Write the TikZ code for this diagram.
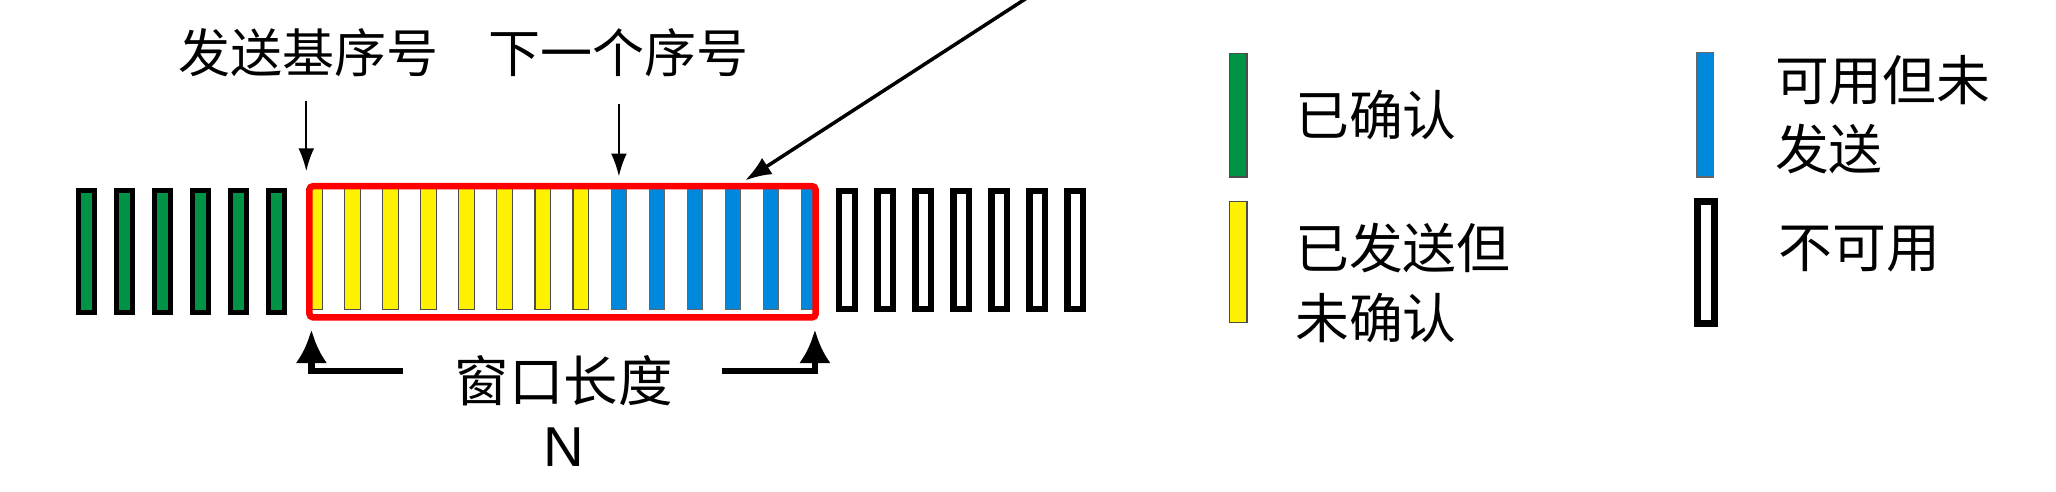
\documentclass[tikz,border=0pt]{standalone}
\usepackage{fontspec}
\setmainfont{Liberation Sans}
\newfontfamily\cjk{Noto Sans CJK SC}
\usetikzlibrary{positioning,arrows,arrows.meta,calc}
\newcommand{\pxu}{0.013112cm}
\definecolor{ackgreen}{RGB}{0,146,69}
\definecolor{freeblue}{RGB}{0,137,220}

\begin{document}
\begin{tikzpicture}[
x=0.013112cm,
y=-0.013112cm,
bar/.style={
  draw,
  rectangle,
  inner sep=0pt,
  minimum width=12*\pxu,
  minimum height=92*\pxu
  },
acked/.style={
  bar,
  fill=ackgreen,
  line width=4*\pxu,
  minimum height=93*\pxu
  },
sent/.style={
  bar,
  fill=yellow,
  draw=black!70,
  line width=0.3pt
  },
usable/.style={
  bar,
  fill=freeblue,
  draw=black!60,
  line width=0.3pt
  },
unusable/.style={
  bar,
  fill=white,
  line width=5*\pxu,
  minimum height=90*\pxu
  },
winframe/.style={
  draw=red,
  line width=5*\pxu,
  rounded corners=1pt,
  inner sep=0pt,
  minimum width=386*\pxu,
  minimum height=100*\pxu
  },
title/.style={
  inner sep=0pt,
  font=\cjk\fontsize{14.8}{18}\selectfont
  },
legtext/.style={
  inner sep=0pt,
  align=left,
  font=\cjk\fontsize{15.3}{19.8}\selectfont
  },
pointer/.style={
  -{Latex[length=6.5pt,width=4.5pt]},
  line width=0.5pt
  },
bracket/.style={
  -{Latex[length=9.5pt,width=9pt]},
  line width=5*\pxu,
  shorten >=7*\pxu
  },
>=latex
]
\useasboundingbox (0,0) rectangle (1568,375.2);

% sequence number space
\foreach \i in {0,...,5}
  \node[acked] (b\i) at (66+29*\i,192) {};
\foreach \i in {6,...,13}
  \node[sent] (b\i) at (66+29*\i,190) {};
\foreach \i in {14,...,19}
  \node[usable] (b\i) at (66+29*\i,190) {};
\foreach \i in {20,...,26}
  \node[unusable] (b\i) at (66+29*\i,190.5) {};

\node[winframe] at (429,192) (win) {};

% pointers from above
\node[title] at (235,40) (base) {发送基序号};
\node[title] at (472,40) (next) {下一个序号};

\draw[pointer, shorten <=18*\pxu, shorten >=9*\pxu]
  (base.south -| b6.west) -- (b6.west |- win.north);
\draw[pointer, shorten <=20*\pxu, shorten >=5*\pxu]
  (next.south -| b14) -- (b14 |- win.north);

\coordinate (far) at (790,-6);
\draw[-{Latex[length=7.5pt,width=5.5pt]}, line width=1pt, shorten >=11*\pxu]
  (far) -- (b17.north);

% window length
\node[title, font=\cjk\fontsize{15.5}{18}\selectfont] at (430,290) (winlen) {窗口长度};
\node[inner sep=0pt, font=\fontsize{16}{18}\selectfont] at (430,341) (n) {N};

\coordinate (lstart) at (307,283);
\coordinate (rstart) at (551,283);
\draw[bracket] (lstart) -| ([xshift=4*\pxu]win.south west);
\draw[bracket] (rstart) -| ([xshift=-3*\pxu]win.south east);

% legend
\node[sent, fill=ackgreen, minimum width=13*\pxu, minimum height=94*\pxu] at (944.5,88) (lg1) {};
\node[sent, minimum width=13*\pxu, minimum height=92*\pxu] at (944.5,200) (lg2) {};
\node[usable, minimum width=13*\pxu, minimum height=95*\pxu] at (1300.5,87.5) (lg3) {};
\node[unusable, minimum width=13*\pxu, minimum height=93*\pxu] at (1301,200) (lg4) {};

\node[legtext, right=0.47cm of lg1] (t1) {已确认};
\node[legtext, right=0.47cm of lg2, yshift=-0.21cm] (t2) {已发送但\\未确认};
\node[legtext, right=0.6cm of lg3] (t3) {可用但未\\发送};
\node[legtext, right=0.6cm of lg4, yshift=0.13cm] (t4) {不可用};

\end{tikzpicture}
\end{document}
